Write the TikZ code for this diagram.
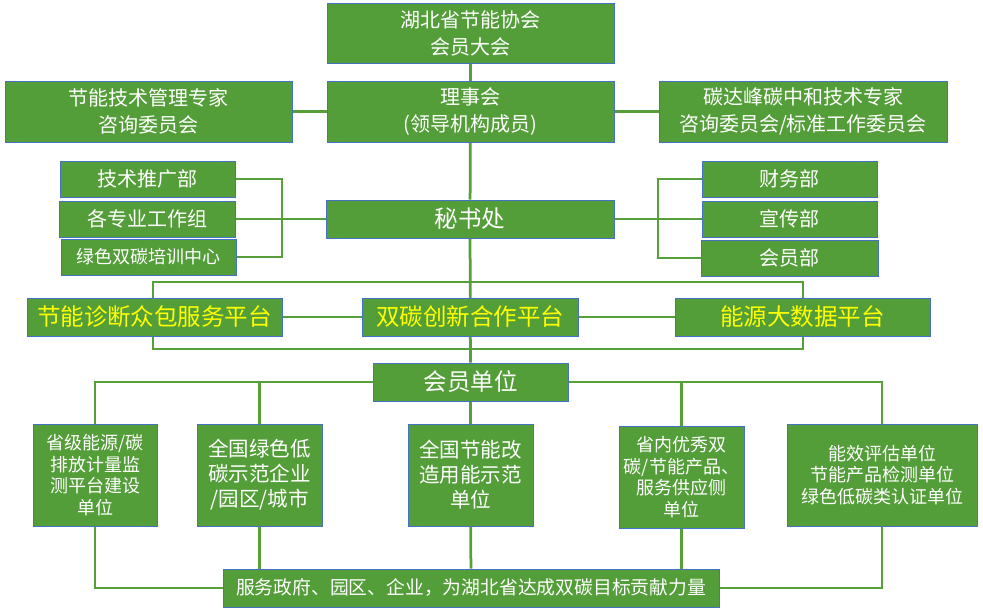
\documentclass[tikz,border=0pt]{standalone}
\usepackage{fontspec}
\newfontfamily\cjk{Noto Sans CJK SC}
\usetikzlibrary{backgrounds}
\definecolor{gfill}{RGB}{84,158,57}
\definecolor{bline}{RGB}{68,114,196}
\definecolor{gline}{RGB}{86,160,58}
\definecolor{ytext}{RGB}{255,255,0}
\tikzset{
  box/.style={draw=bline, line width=0.9pt, fill=gfill, text=white, inner sep=0pt, align=center},
  conn/.style={draw=gline, line width=2.75pt},
  fa/.style={font=\cjk\fontsize{20}{27}\selectfont},
  fb/.style={font=\cjk\fontsize{23.5}{28}\selectfont},
  fc/.style={font=\cjk\fontsize{18}{21.6}\selectfont},
  fd/.style={font=\cjk\fontsize{20.5}{25}\selectfont},
  yel/.style={text=ytext},
}
\begin{document}
\begin{tikzpicture}[x=1pt,y=-1pt]
\useasboundingbox (0,0) rectangle (983,611);
% top section
\node[box,fa,minimum width=287pt,minimum height=60pt] (top) at (470.5,33) {湖北省节能协会\\会员大会};
\node[box,fa,minimum width=287pt,minimum height=61pt] (lsh) at (470.5,111.5) {理事会\\(领导机构成员)};
\node[box,fa,minimum width=287pt,minimum height=61pt] (lexp) at (148.5,111.5) {节能技术管理专家\\咨询委员会};
\node[box,fa,minimum width=288pt,minimum height=61pt] (rexp) at (803,111.5) {碳达峰碳中和技术专家\\咨询委员会/标准工作委员会};
\node[box,fb,minimum width=288pt,minimum height=38pt] (msc) at (470,219) {秘书处};
% departments
\node[box,fa,minimum width=175pt,minimum height=36pt] (d1) at (147.5,179) {技术推广部};
\node[box,fa,minimum width=176pt,minimum height=36pt] (d2) at (147,219) {各专业工作组};
\node[box,fc,minimum width=175pt,minimum height=36pt] (d3) at (148.5,257) {绿色双碳培训中心};
\node[box,fa,minimum width=175pt,minimum height=36pt] (d4) at (789.5,179) {财务部};
\node[box,fa,minimum width=175pt,minimum height=36pt] (d5) at (789.5,219) {宣传部};
\node[box,fa,minimum width=177pt,minimum height=36pt] (d6) at (789.5,258) {会员部};
% platforms
\node[box,fb,yel,minimum width=255pt,minimum height=38pt] (p1) at (154.5,317) {节能诊断众包服务平台};
\node[box,fb,yel,minimum width=216pt,minimum height=38pt] (p2) at (470,317) {双碳创新合作平台};
\node[box,fb,yel,minimum width=255pt,minimum height=38pt] (p3) at (802.5,317) {能源大数据平台};
% members
\node[box,fb,minimum width=195pt,minimum height=38pt] (hy) at (470.5,382) {会员单位};
\node[box,fc,minimum width=124pt,minimum height=102pt] (m1) at (95,475) {省级能源/碳\\排放计量监\\测平台建设\\单位};
\node[box,fd,minimum width=125pt,minimum height=102pt] (m2) at (259.5,475) {全国绿色低\\碳示范企业\\/园区/城市};
\node[box,fd,minimum width=125pt,minimum height=102pt] (m3) at (470.5,475) {全国节能改\\造用能示范\\单位};
\node[box,fc,minimum width=125pt,minimum height=102pt] (m4) at (681.5,477) {省内优秀双\\碳/节能产品、\\服务供应侧\\单位};
\node[box,fc,minimum width=190pt,minimum height=102pt] (m5) at (882,475) {能效评估单位\\节能产品检测单位\\绿色低碳类认证单位};
\node[box,fc,font=\cjk\fontsize{18.8}{22}\selectfont,minimum width=496pt,minimum height=38pt] (bot) at (471,588) {服务政府、园区、企业，为湖北省达成双碳目标贡献力量};
% connectors
\begin{scope}[on background layer]
\draw[conn] (top) -- (lsh);
\draw[conn] (lexp) -- (lsh);
\draw[conn] (lsh) -- (rexp);
\draw[conn] (lsh) -- (msc);
\coordinate (bl1) at (282,179);
\coordinate (bl3) at (282,257);
\draw[conn] (d1.east) -- (bl1) -- (bl3) -- (d3.east);
\draw[conn] (d2) -- (msc);
\coordinate (br1) at (658,179);
\coordinate (br3) at (658,258);
\draw[conn] (d4.west) -- (br1) -- (br3) -- (d6.west);
\draw[conn] (msc) -- (d5);
\draw[conn] (msc) -- (hy);
\coordinate (pl) at (153,282);
\coordinate (pr) at (803,349);
\draw[conn] (pl) rectangle (pr);
\draw[conn] (p1) -- (p2);
\draw[conn] (p2) -- (p3);
\draw[conn] (m1.north) |- (hy.west);
\draw[conn] (m5.north) |- (hy.east);
\draw[conn] (m2.north) -- (m2.north |- hy.west);
\draw[conn] (m4.north) -- (m4.north |- hy.east);
\draw[conn] (hy) -- (m3);
\draw[conn] (m1.south) |- (bot.west);
\draw[conn] (m5.south) |- (bot.east);
\draw[conn] (m2.south) -- (m2.south |- bot.north);
\draw[conn] (m3) -- (bot);
\draw[conn] (m4.south) -- (m4.south |- bot.north);
\end{scope}
\end{tikzpicture}
\end{document}
